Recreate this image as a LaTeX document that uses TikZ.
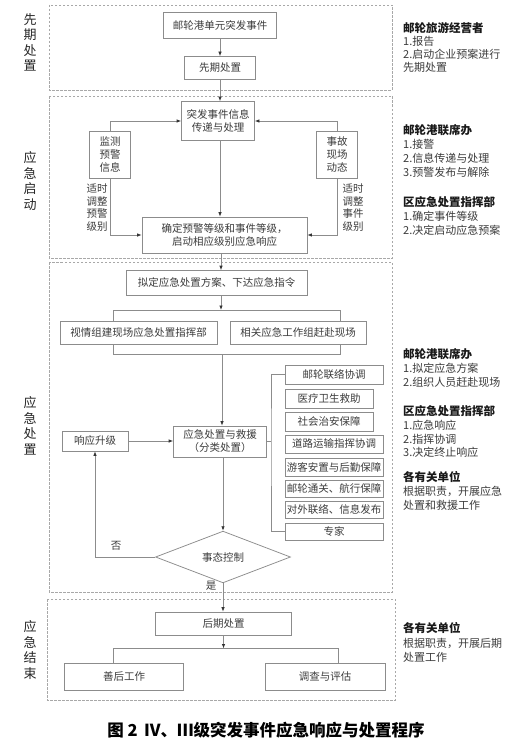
\documentclass[tikz,border=0pt]{standalone}
\usepackage{fontspec}
\setmainfont{Noto Sans CJK SC}
\usetikzlibrary{arrows.meta,shapes.geometric}
\definecolor{boxline}{HTML}{8C8C8C}
\definecolor{dashline}{HTML}{A8A8A8}
\definecolor{txt}{HTML}{3C3C3C}
\begin{document}
\begin{tikzpicture}[x=1pt,y=-1pt,
 box/.style={draw=boxline,line width=0.75pt,inner sep=1pt,text=txt,font=\fontsize{10.5}{13}\selectfont,align=center},
 sect/.style={draw=dashline,line width=0.7pt,dash pattern=on 2.5pt off 1.5pt},
 line/.style={draw=boxline,line width=0.75pt},
 arr/.style={line,-{Latex[length=4.5pt,width=3.5pt,color=black!80]}},
 vlab/.style={font=\fontsize{13}{15.5}\selectfont,align=center,text=black!85,inner sep=0pt},
 rhead/.style={anchor=west,font=\fontsize{11.5}{13}\selectfont\bfseries,text=black!90,inner sep=0pt},
 rtext/.style={anchor=west,font=\fontsize{11}{13}\selectfont,text=txt,inner sep=0pt},
 lab/.style={font=\fontsize{10.5}{12.5}\selectfont,text=txt,inner sep=0pt,align=center}]
\useasboundingbox (0,0) rectangle (531,752);
\fill[white] (0,0) rectangle (531,752);
% sections
\draw[sect] (49,5) rectangle (392,90);
\draw[sect] (49,96) rectangle (392,258);
\draw[sect] (49,262) rectangle (392,592);
\draw[sect] (47,599) rectangle (395,700);
% vertical labels
\node[vlab] (v1) at (30,42.5) {先\\期\\处\\置};
\node[vlab] (v2) at (30,181) {应\\急\\启\\动};
\node[vlab] (v3) at (30,426) {应\\急\\处\\置};
\node[vlab] (v4) at (30,650) {应\\急\\结\\束};
% section 1
\node[box,minimum width=113pt,minimum height=26pt] (n1) at (220,25) {邮轮港单元突发事件};
\node[box,minimum width=71pt,minimum height=23pt] (n2) at (220,68) {先期处置};
% section 2
\node[box,minimum width=73pt,minimum height=39pt] (n3) at (218,121) {突发事件信息\\传递与处理};
\node[box,minimum width=41pt,minimum height=47pt] (n4) at (110,155) {监测\\预警\\信息};
\node[box,minimum width=41pt,minimum height=47pt] (n5) at (337,155) {事故\\现场\\动态};
\node[box,minimum width=165pt,minimum height=36pt] (n6) at (224.5,235) {确定预警等级和事件等级，\\启动相应级别应急响应};
\node[lab] (la) at (97,207.5) {适时\\调整\\预警\\级别};
\node[lab] (lb) at (353,207.5) {适时\\调整\\事件\\级别};
% section 3
\node[box,minimum width=181pt,minimum height=25pt] (n7) at (216.5,283) {拟定应急处置方案、下达应急指令};
\node[box,minimum width=157pt,minimum height=23pt] (n8) at (138.5,333) {视情组建现场应急处置指挥部};
\node[box,minimum width=136pt,minimum height=23pt] (n9) at (298,333) {相关应急工作组赶赴现场};
\node[box,minimum width=93pt,minimum height=31pt] (n10) at (220,441.5) {应急处置与救援\\（分类处置）};
\node[box,minimum width=66pt,minimum height=20pt] (n11) at (95,441) {响应升级};
\node[box,minimum width=98pt,minimum height=19pt] (r1) at (334,374.5) {邮轮联络协调};
\node[box,minimum width=88pt,minimum height=19pt] (r2) at (329,398.5) {医疗卫生救助};
\node[box,minimum width=88pt,minimum height=19pt] (r3) at (329,421.5) {社会治安保障};
\node[box,minimum width=98pt,minimum height=18pt] (r4) at (334,444) {道路运输指挥协调};
\node[box,minimum width=98pt,minimum height=18pt] (r5) at (334,467) {游客安置与后勤保障};
\node[box,minimum width=98pt,minimum height=17pt] (r6) at (334,488.5) {邮轮通关、航行保障};
\node[box,minimum width=98pt,minimum height=17pt] (r7) at (334,509.5) {对外联络、信息发布};
\node[box,minimum width=98pt,minimum height=17pt] (r8) at (334,531.5) {专家};
\node[draw=boxline,line width=0.75pt,shape=diamond,minimum width=135pt,minimum height=42pt,inner sep=0pt,text=txt,font=\fontsize{10.5}{13}\selectfont] (dia) at (223,557) {事态控制};
\node[lab] (no) at (116,546) {否};
\node[lab] (yes) at (211,585.5) {是};
% section 4
\node[box,minimum width=136pt,minimum height=23pt] (n12) at (223.5,623.5) {后期处置};
\node[box,minimum width=119pt,minimum height=27pt] (n13) at (124,677) {善后工作};
\node[box,minimum width=120pt,minimum height=27pt] (n14) at (325,677) {调查与评估};
% connectors
\draw[arr] (n1.south) -- (n2.north);
\draw[arr] (n2.south) -- (n2.south |- n3.north);
\draw[arr] (n4.north) |- (n3.west);
\draw[arr] (n5.north) |- (n3.east);
\draw[arr] (n4.south) |- (n6.west);
\draw[arr] (n5.south) |- (n6.east);
\draw[arr] (n2.south |- n3.south) -- (n2.south |- n6.north);
\coordinate (sp) at (221,0);
\coordinate (tb) at (221,310);
\draw[arr] (sp |- n6.south) -- (sp |- n7.north);
\draw[arr] (sp |- n7.south) -- (tb);
\coordinate (bl) at (113,310);
\coordinate (br) at (340,310);
\coordinate (bl2) at (113,354);
\coordinate (br2) at (340,354);
\coordinate (bm) at (222,354);
\draw[line] (bl |- n8.north) -- (bl) -- (br) -- (br |- n9.north);
\draw[line] (bl |- n8.south) -- (bl2) -- (br2) -- (br |- n9.south);
\draw[arr] (bm) -- (bm |- n10.north);
\draw[arr] (n11.east) -- (n11.east -| n10.west);
\coordinate (bx) at (271,441.5);
\draw[line] (n10.east) -- (bx);
\draw[line] (r1.west) -| (bx) |- (r8.west);
\draw[arr] (dia.north |- n10.south) -- (dia.north);
\draw[arr] (dia.west) -| (n11.south);
\draw[arr] (dia.south) -- (dia.south |- n12.north);
\coordinate (pb) at (223.5,648.5);
\coordinate (ql) at (113,648.5);
\coordinate (qr) at (338,648.5);
\draw[arr] (n12.south) -- (pb);
\draw[line] (ql |- n13.north) -- (ql) -- (qr) -- (qr |- n14.north);
% right texts
\node[rhead] (a0) at (403,28) {邮轮旅游经营者};
\node[rtext] (a1) at (403,41) {1.报告};
\node[rtext] (a2) at (403,54) {2.启动企业预案进行};
\node[rtext] (a3) at (403,67) {先期处置};
\node[rhead] (b0) at (403,130) {邮轮港联席办};
\node[rtext] (b1) at (403,144) {1.接警};
\node[rtext] (b2) at (403,158) {2.信息传递与处理};
\node[rtext] (b3) at (403,172) {3.预警发布与解除};
\node[rhead] (c0) at (403,202) {区应急处置指挥部};
\node[rtext] (c1) at (403,216) {1.确定事件等级};
\node[rtext] (c2) at (403,230) {2.决定启动应急预案};
\node[rhead] (d0) at (403,354) {邮轮港联席办};
\node[rtext] (d1) at (403,368) {1.拟定应急方案};
\node[rtext] (d2) at (403,382) {2.组织人员赶赴现场};
\node[rhead] (e0) at (403,411) {区应急处置指挥部};
\node[rtext] (e1) at (403,425) {1.应急响应};
\node[rtext] (e2) at (403,439) {2.指挥协调};
\node[rtext] (e3) at (403,452) {3.决定终止响应};
\node[rhead] (f0) at (403,477) {各有关单位};
\node[rtext] (f1) at (403,491) {根据职责，开展应急};
\node[rtext] (f2) at (403,505) {处置和救援工作};
\node[rhead] (g0) at (403,628) {各有关单位};
\node[rtext] (g1) at (403,643) {根据职责，开展后期};
\node[rtext] (g2) at (403,657) {处置工作};
% caption
\node[font=\fontsize{16.5}{19}\selectfont\bfseries,text=black,inner sep=0pt] (cap) at (266,730) {图 2\, Ⅳ、Ⅲ级突发事件应急响应与处置程序};
\end{tikzpicture}
\end{document}
